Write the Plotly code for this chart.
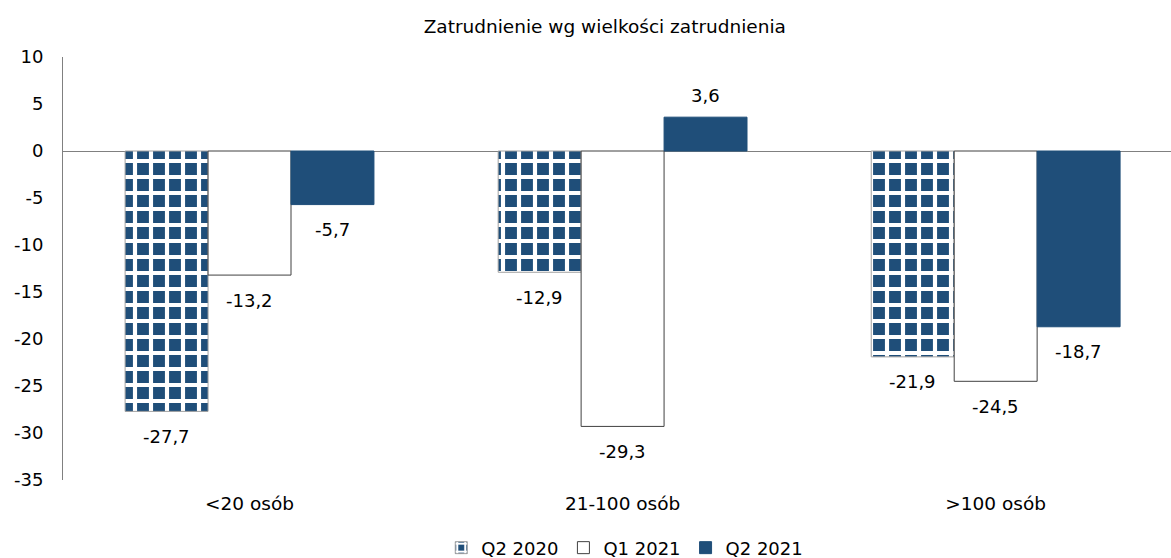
import plotly.graph_objects as go

# data
categories = ["<20 osób", "21-100 osób", ">100 osób"]
q2_2020 = [-27.7, -12.9, -21.9]
q1_2021 = [-13.2, -29.3, -24.5]
q2_2021 = [-5.7, 3.6, -18.7]
y_ticks = [10, 5, 0, -5, -10, -15, -20, -25, -30, -35]

navy = "#1F4E79"
font = "DejaVu Sans"

fig = go.Figure()

fig.add_trace(go.Bar(
    name="Q2 2020", x=categories, y=q2_2020,
    marker=dict(color=navy, line=dict(color="#A0A0A0", width=1),
                pattern=dict(shape="+", fgcolor="white", bgcolor=navy, fgopacity=1,
                             size=16, solidity=0.45)),
))
fig.add_trace(go.Bar(
    name="Q1 2021", x=categories, y=q1_2021,
    marker=dict(color="white", line=dict(color="#404040", width=1)),
))
fig.add_trace(go.Bar(
    name="Q2 2021", x=categories, y=q2_2021,
    marker=dict(color=navy, line=dict(color=navy, width=1)),
))

# value labels, placed by data coordinates
bar_px = 83
for k, series in enumerate([q2_2020, q1_2021, q2_2021]):
    for cat, v in zip(categories, series):
        fig.add_annotation(
            x=cat, y=v, xref="x", yref="y", showarrow=False,
            text=f"{v:.1f}".replace(".", ","),
            xshift=(k - 1) * bar_px, yshift=22 if v >= 0 else -25,
            font=dict(size=18, color="black", family=font),
        )

fig.update_layout(
    width=1171, height=558,
    margin=dict(l=63, r=0, t=57, b=78),
    paper_bgcolor="white", plot_bgcolor="white",
    font=dict(family=font, color="black"),
    title=dict(text="Zatrudnienie wg wielkości zatrudnienia", x=0.489, xref="paper", xanchor="center",
               y=0.952, yanchor="middle", font=dict(size=18.5)),
    barmode="group", bargap=0.333, bargroupgap=0,
    showlegend=True,
    legend=dict(orientation="h", x=0.507, xanchor="center", yref="container", y=0.018, yanchor="middle",
                font=dict(size=18), itemwidth=30, traceorder="normal"),
)

fig.update_xaxes(
    range=[-0.5, 2.47], showgrid=False, showline=False, ticks="",
    tickfont=dict(size=18.5), ticklabelstandoff=10,
)
fig.update_yaxes(
    range=[-35, 10], tickvals=y_ticks, ticktext=[str(t) for t in y_ticks],
    showgrid=False, showline=True, linecolor="#808080",
    zeroline=True, zerolinecolor="#808080", zerolinewidth=1, ticks="",
    tickfont=dict(size=18), ticklabelstandoff=15,
)

fig.write_html("out.html", config={"displayModeBar": False},
               post_script="document.body.style.margin='0';")
